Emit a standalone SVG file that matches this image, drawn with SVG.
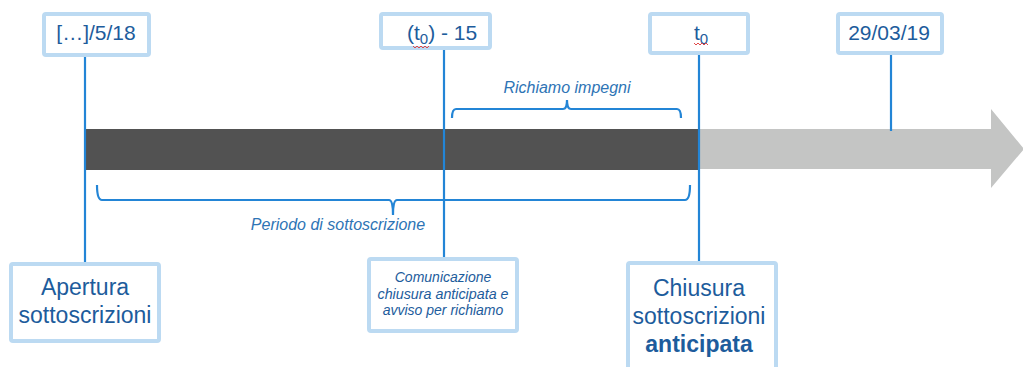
<svg xmlns="http://www.w3.org/2000/svg" width="1023" height="367" viewBox="0 0 1023 367">
<style>
.box{fill:#fff;stroke:#BCDAF2;stroke-width:4}
.conn{stroke:#2385D6;stroke-width:2.2;fill:none}
.t{font-family:"Liberation Sans",Arial,sans-serif;fill:#1D5C9C}
.date{font-size:21px}
.big{font-size:23px}
.lbl{font-family:"Liberation Sans",Arial,sans-serif;font-style:italic;fill:#2E74B5}
.sq{stroke:#E04848;stroke-width:1;fill:none}
</style>
<rect width="1023" height="367" fill="#fff"/>
<g id="timeline">
<rect x="85" y="129" width="615" height="41" fill="#525252"/>
<polygon points="700,129 991,129 991,109 1024,149 991,188 991,169 700,169" fill="#C4C5C4"/>
</g>
<g id="connectors">
<line class="conn" x1="85" y1="57" x2="85" y2="262"/>
<line class="conn" x1="444" y1="50" x2="444" y2="257"/>
<line class="conn" x1="699" y1="55" x2="699" y2="261"/>
<line class="conn" x1="891" y1="55" x2="891" y2="131"/>
<path class="conn" d="M452,118 Q452,109 456,109 L563,109 Q567,109 567,100 Q567,109 571,109 L677,109 Q681,109 681,118"/>
<path class="conn" d="M97,185 Q97,200 102,200 L389,200 Q393,200 393,215 Q393,200 397,200 L685,200 Q690,200 690,185"/>
</g>
<g id="node-date1">
<rect class="box" x="44" y="14" width="105" height="41" rx="2"/>
<text class="t date" x="96" y="40" text-anchor="middle">[…]/5/18</text>
</g>
<g id="node-t0-15">
<rect class="box" x="381" y="14" width="109" height="34" rx="2"/>
<text class="t date" x="407" y="40">(t<tspan font-size="15" dy="4">0</tspan><tspan dy="-4">) - 15</tspan></text>
<path class="sq" d="M413,46 l2,2 l2,-2 l2,2 l2,-2 l2,2 l2,-2 l2,2 l2,-2"/>
</g>
<g id="node-t0">
<rect class="box" x="650" y="14" width="98" height="39" rx="2"/>
<text class="t date" x="694" y="40">t<tspan font-size="15" dy="4">0</tspan></text>
<path class="sq" d="M694,43 l2,2 l2,-2 l2,2 l2,-2 l2,2 l2,-2 l2,2"/>
</g>
<g id="node-date2">
<rect class="box" x="838" y="14" width="104" height="39" rx="2"/>
<text class="t date" x="889" y="40" text-anchor="middle">29/03/19</text>
</g>
<g id="label-richiamo">
<text class="lbl" x="567" y="93" font-size="16" text-anchor="middle">Richiamo impegni</text>
</g>
<g id="label-periodo">
<text class="lbl" x="338" y="230" font-size="16" text-anchor="middle">Periodo di sottoscrizione</text>
</g>
<g id="node-apertura">
<rect class="box" x="11" y="264" width="148" height="77" rx="2"/>
<text class="t big" x="85" y="295" text-anchor="middle">Apertura</text>
<text class="t big" x="85" y="323" text-anchor="middle">sottoscrizioni</text>
</g>
<g id="node-comunicazione">
<rect class="box" x="369" y="259" width="148" height="72" rx="2"/>
<text class="t" x="443" y="282" font-size="14" font-style="italic" text-anchor="middle">Comunicazione</text>
<text class="t" x="443" y="299" font-size="14" font-style="italic" text-anchor="middle" textLength="131" lengthAdjust="spacingAndGlyphs">chiusura anticipata e</text>
<text class="t" x="443" y="315" font-size="14" font-style="italic" text-anchor="middle">avviso per richiamo</text>
</g>
<g id="node-chiusura">
<rect class="box" x="628" y="263" width="148" height="112" rx="2"/>
<text class="t big" x="699" y="296" text-anchor="middle">Chiusura</text>
<text class="t big" x="699" y="324" text-anchor="middle">sottoscrizioni</text>
<text class="t big" x="699" y="352" text-anchor="middle" font-weight="bold">anticipata</text>
</g>
</svg>
